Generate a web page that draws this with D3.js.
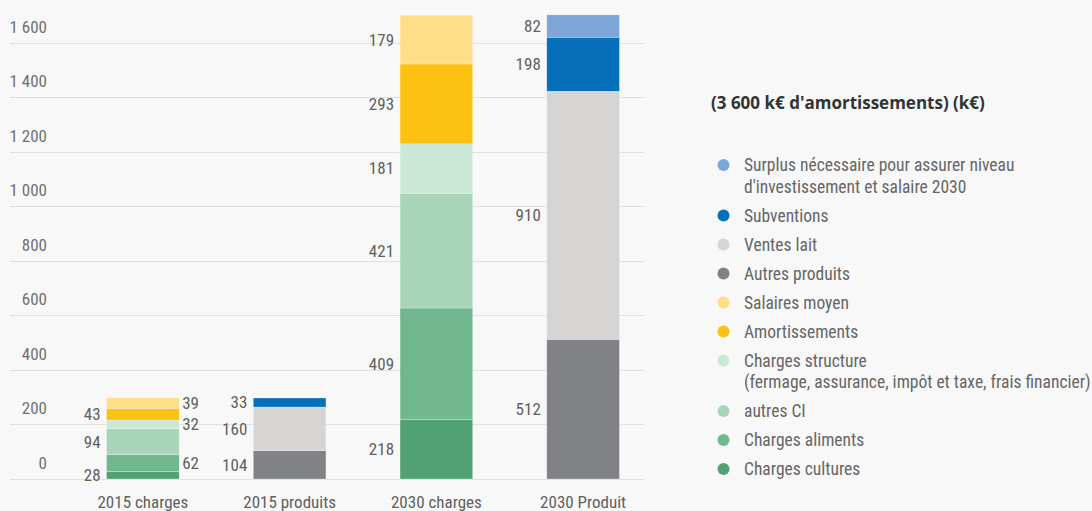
<!DOCTYPE html>
<html>
<head>
<meta charset="utf-8">
<script src="https://cdn.jsdelivr.net/npm/d3@7"></script>
<style>
  body { margin: 0; background: #f8f8f8; }
  svg { display: block; }
  .cond { font-family: "Roboto Condensed", "Liberation Sans Narrow", "DejaVu Sans Condensed", sans-serif; }
</style>
</head>
<body>
<div id="container"></div>
<script>
const categories = ["2015 charges", "2015 produits", "2030 charges", "2030 Produit"];

// series from bottom to top of the stacks
const seriesNames = [
  "Charges cultures",
  "Charges aliments",
  "autres CI",
  "Charges structure\n(fermage, assurance, impôt et taxe, frais financier)",
  "Amortissements",
  "Salaires moyen",
  "Autres produits",
  "Ventes lait",
  "Subventions",
  "Surplus nécessaire pour assurer niveau\nd'investissement et salaire 2030"
];
const seriesColors = ["#52a172", "#72b88e", "#a8d5b8", "#cbe8d6", "#fdc111", "#fede89",
                      "#818285", "#d6d5d4", "#0570b9", "#7ea6d8"];

const chargesCultures   = [28, 0, 218, 0];
const chargesAliments   = [62, 0, 409, 0];
const autresCI          = [94, 0, 421, 0];
const chargesStructure  = [32, 0, 181, 0];
const amortissements    = [43, 0, 293, 0];
const salairesMoyen     = [39, 0, 179, 0];
const autresProduits    = [0, 104, 0, 512];
const ventesLait        = [0, 160, 0, 910];
const subventions       = [0, 33, 0, 198];
const surplus           = [0, 0, 0, 82];

const seriesValues = [chargesCultures, chargesAliments, autresCI, chargesStructure, amortissements,
                      salairesMoyen, autresProduits, ventesLait, subventions, surplus];

const yTicks = [0, 200, 400, 600, 800, 1000, 1200, 1400, 1600];
const legendTitle = "(3 600 k€ d'amortissements) (k€)";

//THE SVG
const w = 1092;
const h = 511;

const svg = d3.select("#container")
              .append("svg")
              .attr("width", w)
              .attr("height", h);

const fr = d3.formatLocale({decimal: ",", thousands: "\u00a0", grouping: [3], currency: ["", " €"]});
const fmt = fr.format(",d");

//THE SCALES
const xScale = d3.scaleBand()
                 .domain(categories)
                 .range([69.5, 656.5])
                 .paddingInner(0.505)
                 .paddingOuter(0.2525);

const yScale = d3.scaleLinear()
                 .domain([0, 1600])
                 .range([479, 42.7]);

//the table for d3.stack
const table = categories.map((c, i) => {
  const row = {cat: c};
  seriesNames.forEach((s, j) => row[j] = seriesValues[j][i]);
  return row;
});
const stacked = d3.stack().keys(seriesNames.map((s, j) => j))(table);

//GRID + Y LABELS
const grid = svg.append("g");
grid.selectAll("line")
    .data(yTicks)
    .enter()
    .append("line")
    .attr("x1", 10)
    .attr("x2", 644)
    .attr("y1", d => Math.round(yScale(d)) + 0.5)
    .attr("y2", d => Math.round(yScale(d)) + 0.5)
    .attr("stroke", "#e0e0e0")
    .attr("stroke-width", 1);

grid.selectAll("text")
    .data(yTicks)
    .enter()
    .append("text")
    .attr("class", "cond")
    .attr("x", 47)
    .attr("y", d => yScale(d) - 16)
    .attr("dy", "0.35em")
    .attr("text-anchor", "end")
    .attr("font-size", 17)
    .attr("fill", "#707070")
    .text(d => fmt(d));

//THE BARS
const layers = svg.append("g")
  .selectAll("g")
  .data(stacked)
  .enter()
  .append("g")
  .attr("fill", d => seriesColors[d.key]);

layers.selectAll("rect")
  .data(d => d.filter(p => p[1] > p[0]))
  .enter()
  .append("rect")
  .attr("x", p => xScale(p.data.cat))
  .attr("width", xScale.bandwidth())
  .attr("y", p => yScale(p[1]))
  .attr("height", p => yScale(p[0]) - yScale(p[1]))
  .attr("stroke", "#ffffff")
  .attr("stroke-width", 0.5)
  .attr("stroke-opacity", 0.5);

//THE VALUE LABELS
const labels = [];
stacked.forEach(layer => {
  layer.forEach((p, i) => {
    if (p[1] > p[0]) labels.push({cat: p.data.cat, i: i, v: p[1] - p[0], mid: (p[0] + p[1]) / 2});
  });
});
//first bar alternates its labels left / right
let k = 0;
labels.forEach(l => {
  l.right = l.i === 0 ? (k++ % 2 === 1) : false;
});

svg.append("g")
  .selectAll("text")
  .data(labels)
  .enter()
  .append("text")
  .attr("class", "cond")
  .attr("x", l => l.right ? xScale(l.cat) + xScale.bandwidth() + 3 : xScale(l.cat) - 6)
  .attr("y", l => yScale(l.mid))
  .attr("dy", "0.35em")
  .attr("text-anchor", l => l.right ? "start" : "end")
  .attr("font-size", 17)
  .attr("fill", "#606060")
  .text(l => l.v);

//X LABELS
svg.append("g")
  .selectAll("text")
  .data(categories)
  .enter()
  .append("text")
  .attr("class", "cond")
  .attr("x", c => xScale(c) + xScale.bandwidth() / 2)
  .attr("y", 502)
  .attr("dy", "0.35em")
  .attr("text-anchor", "middle")
  .attr("font-size", 17)
  .attr("fill", "#606060")
  .text(c => c);

//THE LEGEND
const legend = svg.append("g")
  .attr("transform", "translate(711, 0)");

legend.append("text")
  .attr("x", 0)
  .attr("y", 103)
  .attr("dy", "0.35em")
  .attr("font-family", "'Open Sans', 'Noto Sans', sans-serif")
  .attr("font-weight", "bold")
  .attr("font-size", 17)
  .attr("fill", "#333")
  .text(legendTitle);

const order = d3.range(seriesNames.length).reverse();
let ly = 165;
order.forEach(j => {
  const lines = seriesNames[j].split("\n");
  const item = legend.append("g").attr("transform", `translate(0, ${ly})`);
  item.append("circle")
    .attr("cx", 12.5)
    .attr("cy", 0)
    .attr("r", 6)
    .attr("fill", seriesColors[j]);
  item.append("text")
    .attr("class", "cond")
    .attr("font-size", 17.5)
    .attr("fill", "#666")
    .selectAll("tspan")
    .data(lines)
    .enter()
    .append("tspan")
    .attr("x", 33)
    .attr("y", (d, i) => i * 21.5)
    .attr("dy", "0.35em")
    .text(d => d);
  ly += 29 + (lines.length - 1) * 21.5;
});
</script>
</body>
</html>
